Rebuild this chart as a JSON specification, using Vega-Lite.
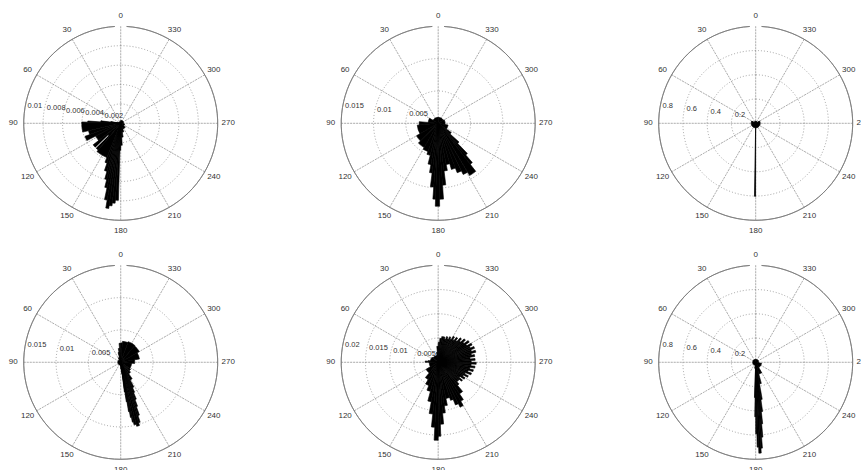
{
"$schema":"https://vega.github.io/schema/vega-lite/v6.json",
"background":"white",
"autosize":{"type":"none"},
"padding":0,
"width":876.4,
"height":485.6,
"config":{"view":{"stroke":null},"text":{"font":"Liberation Sans","fontSize":8,"color":"#333333"}},
"datasets":{
"angles":[{"a":0,"t":"0"},{"a":30,"t":"30"},{"a":60,"t":"60"},{"a":90,"t":"90"},{"a":120,"t":"120"},{"a":150,"t":"150"},{"a":180,"t":"180"},{"a":210,"t":"210"},{"a":240,"t":"240"},{"a":270,"t":"270"},{"a":300,"t":"300"},{"a":330,"t":"330"}],
"rings":[
{"p":1,"v":0.002,"t":"0.002","o":0},{"p":1,"v":0.004,"t":"0.004","o":0},{"p":1,"v":0.006,"t":"0.006","o":0},{"p":1,"v":0.008,"t":"0.008","o":0},{"p":1,"v":0.01,"t":"0.01","o":1},
{"p":2,"v":0.005,"t":"0.005","o":0},{"p":2,"v":0.01,"t":"0.01","o":0},{"p":2,"v":0.015,"t":"0.015","o":1},
{"p":3,"v":0.2,"t":"0.2","o":0},{"p":3,"v":0.4,"t":"0.4","o":0},{"p":3,"v":0.6,"t":"0.6","o":0},{"p":3,"v":0.8,"t":"0.8","o":1},
{"p":4,"v":0.005,"t":"0.005","o":0},{"p":4,"v":0.01,"t":"0.01","o":0},{"p":4,"v":0.015,"t":"0.015","o":1},
{"p":5,"v":0.005,"t":"0.005","o":0},{"p":5,"v":0.01,"t":"0.01","o":0},{"p":5,"v":0.015,"t":"0.015","o":0},{"p":5,"v":0.02,"t":"0.02","o":1},
{"p":6,"v":0.2,"t":"0.2","o":0},{"p":6,"v":0.4,"t":"0.4","o":0},{"p":6,"v":0.6,"t":"0.6","o":0},{"p":6,"v":0.8,"t":"0.8","o":1}
],
"gaps":[{"p":1,"a0":134.1,"a1":134.7,"r0":0.0018,"r":0.0037}],
"wedges":[
{"p":1,"a0":0,"a1":80,"r":0.0002},{"p":1,"a0":80,"a1":83,"r":0.00103},{"p":1,"a0":83,"a1":86,"r":0.00206},{"p":1,"a0":86,"a1":88,"r":0.0034},{"p":1,"a0":88,"a1":103,"r":0.00402},{"p":1,"a0":103,"a1":110,"r":0.0034},{"p":1,"a0":110,"a1":117,"r":0.00392},{"p":1,"a0":117,"a1":128,"r":0.00289},{"p":1,"a0":128,"a1":140,"r":0.00361},{"p":1,"a0":140,"a1":158,"r":0.00381},{"p":1,"a0":158,"a1":161,"r":0.00433},{"p":1,"a0":161,"a1":164,"r":0.00515},{"p":1,"a0":164,"a1":166,"r":0.00598},{"p":1,"a0":166,"a1":168,"r":0.0068},{"p":1,"a0":168,"a1":170,"r":0.00804},{"p":1,"a0":170,"a1":172,"r":0.00887},{"p":1,"a0":172,"a1":174,"r":0.00856},{"p":1,"a0":174,"a1":176,"r":0.00825},{"p":1,"a0":176,"a1":178.3,"r":0.00794},{"p":1,"a0":178.3,"a1":180,"r":0.00278},{"p":1,"a0":180,"a1":184,"r":0.00227},{"p":1,"a0":184,"a1":190,"r":0.00144},{"p":1,"a0":190,"a1":200,"r":0.00093},{"p":1,"a0":200,"a1":230,"r":0.00062},{"p":1,"a0":230,"a1":260,"r":0.00041},{"p":1,"a0":260,"a1":360,"r":0.00031},
{"p":2,"a0":0,"a1":60,"r":0.00093},{"p":2,"a0":60,"a1":85,"r":0.00155},{"p":2,"a0":85,"a1":95,"r":0.00294},{"p":2,"a0":95,"a1":120,"r":0.00325},{"p":2,"a0":120,"a1":135,"r":0.00387},{"p":2,"a0":135,"a1":150,"r":0.00433},{"p":2,"a0":150,"a1":160,"r":0.00464},{"p":2,"a0":160,"a1":166,"r":0.0051},{"p":2,"a0":166,"a1":170,"r":0.00649},{"p":2,"a0":170,"a1":173,"r":0.00773},{"p":2,"a0":173,"a1":176,"r":0.00989},{"p":2,"a0":176,"a1":178,"r":0.01175},{"p":2,"a0":178,"a1":181,"r":0.01283},{"p":2,"a0":181,"a1":184,"r":0.01175},{"p":2,"a0":184,"a1":187,"r":0.00959},{"p":2,"a0":187,"a1":191,"r":0.00742},{"p":2,"a0":191,"a1":196,"r":0.00649},{"p":2,"a0":196,"a1":201,"r":0.00742},{"p":2,"a0":201,"a1":206,"r":0.00819},{"p":2,"a0":206,"a1":211,"r":0.00881},{"p":2,"a0":211,"a1":218,"r":0.00943},{"p":2,"a0":218,"a1":221,"r":0.00804},{"p":2,"a0":221,"a1":224,"r":0.00649},{"p":2,"a0":224,"a1":228,"r":0.00433},{"p":2,"a0":228,"a1":235,"r":0.00247},{"p":2,"a0":235,"a1":260,"r":0.00155},{"p":2,"a0":260,"a1":300,"r":0.00108},{"p":2,"a0":300,"a1":360,"r":0.00093},
{"p":3,"a0":0,"a1":60,"r":0.0165},{"p":3,"a0":60,"a1":300,"r":0.037},{"p":3,"a0":300,"a1":360,"r":0.0165},{"p":3,"a0":179.1,"a1":179.9,"r":0.602},
{"p":4,"a0":0,"a1":5,"r":0.00294},{"p":4,"a0":5,"a1":10,"r":0.00216},{"p":4,"a0":10,"a1":15,"r":0.00155},{"p":4,"a0":15,"a1":30,"r":0.00077},{"p":4,"a0":30,"a1":180,"r":0.00046},{"p":4,"a0":180,"a1":186,"r":0.00108},{"p":4,"a0":186,"a1":187,"r":0.00186},{"p":4,"a0":187,"a1":188,"r":0.00464},{"p":4,"a0":188,"a1":189,"r":0.00618},{"p":4,"a0":189,"a1":190,"r":0.00773},{"p":4,"a0":190,"a1":191,"r":0.00866},{"p":4,"a0":191,"a1":192,"r":0.00943},{"p":4,"a0":192,"a1":194,"r":0.00989},{"p":4,"a0":194,"a1":196.5,"r":0.0102},{"p":4,"a0":196.5,"a1":198,"r":0.00974},{"p":4,"a0":198,"a1":199.5,"r":0.00866},{"p":4,"a0":199.5,"a1":201,"r":0.00727},{"p":4,"a0":201,"a1":203,"r":0.00618},{"p":4,"a0":203,"a1":205,"r":0.0051},{"p":4,"a0":205,"a1":208,"r":0.00433},{"p":4,"a0":208,"a1":215,"r":0.00309},{"p":4,"a0":215,"a1":225,"r":0.00216},{"p":4,"a0":225,"a1":235,"r":0.00186},{"p":4,"a0":235,"a1":265,"r":0.0017},{"p":4,"a0":265,"a1":280,"r":0.00216},{"p":4,"a0":280,"a1":300,"r":0.00294},{"p":4,"a0":300,"a1":320,"r":0.00332},{"p":4,"a0":320,"a1":340,"r":0.0034},{"p":4,"a0":340,"a1":355,"r":0.00325},{"p":4,"a0":355,"a1":360,"r":0.00301},
{"p":5,"a0":0,"a1":5,"r":0.0033},{"p":5,"a0":5,"a1":10,"r":0.00206},{"p":5,"a0":10,"a1":50,"r":0.00144},{"p":5,"a0":50,"a1":80,"r":0.00165},{"p":5,"a0":80,"a1":84,"r":0.00206},{"p":5,"a0":84,"a1":90,"r":0.00268},{"p":5,"a0":90,"a1":120,"r":0.00186},{"p":5,"a0":120,"a1":140,"r":0.00289},{"p":5,"a0":140,"a1":150,"r":0.00412},{"p":5,"a0":150,"a1":158,"r":0.00516},{"p":5,"a0":158,"a1":165,"r":0.00619},{"p":5,"a0":165,"a1":170,"r":0.00825},{"p":5,"a0":170,"a1":174,"r":0.01072},{"p":5,"a0":174,"a1":177,"r":0.0134},{"p":5,"a0":177,"a1":180,"r":0.01608},{"p":5,"a0":180,"a1":182,"r":0.01526},{"p":5,"a0":182,"a1":185,"r":0.01278},{"p":5,"a0":185,"a1":188,"r":0.01052},{"p":5,"a0":188,"a1":192,"r":0.00907},{"p":5,"a0":192,"a1":198,"r":0.00763},{"p":5,"a0":198,"a1":202,"r":0.00825},{"p":5,"a0":202,"a1":206,"r":0.00949},{"p":5,"a0":206,"a1":210,"r":0.01031},{"p":5,"a0":210,"a1":214,"r":0.00928},{"p":5,"a0":214,"a1":220,"r":0.00784},{"p":5,"a0":220,"a1":224,"r":0.00619},{"p":5,"a0":224,"a1":228,"r":0.00557},
{"p":5,"a0":228,"a1":231,"r":0.00557},{"p":5,"a0":231,"a1":234,"r":0.00619},{"p":5,"a0":234,"a1":237,"r":0.00536},{"p":5,"a0":237,"a1":240,"r":0.00639},{"p":5,"a0":240,"a1":243,"r":0.00577},{"p":5,"a0":243,"a1":246,"r":0.0068},{"p":5,"a0":246,"a1":249,"r":0.00598},{"p":5,"a0":249,"a1":252,"r":0.00722},{"p":5,"a0":252,"a1":255,"r":0.00639},{"p":5,"a0":255,"a1":258,"r":0.00742},{"p":5,"a0":258,"a1":261,"r":0.0066},{"p":5,"a0":261,"a1":264,"r":0.00763},{"p":5,"a0":264,"a1":267,"r":0.0068},{"p":5,"a0":267,"a1":270,"r":0.00784},{"p":5,"a0":270,"a1":273,"r":0.0068},{"p":5,"a0":273,"a1":276,"r":0.00763},{"p":5,"a0":276,"a1":279,"r":0.0066},{"p":5,"a0":279,"a1":282,"r":0.00763},{"p":5,"a0":282,"a1":285,"r":0.00701},{"p":5,"a0":285,"a1":288,"r":0.00804},{"p":5,"a0":288,"a1":291,"r":0.00722},{"p":5,"a0":291,"a1":294,"r":0.00804},{"p":5,"a0":294,"a1":297,"r":0.00722},{"p":5,"a0":297,"a1":300,"r":0.00784},{"p":5,"a0":300,"a1":303,"r":0.0068},{"p":5,"a0":303,"a1":306,"r":0.00763},{"p":5,"a0":306,"a1":309,"r":0.0066},{"p":5,"a0":309,"a1":312,"r":0.00722},{"p":5,"a0":312,"a1":315,"r":0.00619},{"p":5,"a0":315,"a1":318,"r":0.0068},{"p":5,"a0":318,"a1":321,"r":0.00577},{"p":5,"a0":321,"a1":324,"r":0.00639},{"p":5,"a0":324,"a1":327,"r":0.00557},{"p":5,"a0":327,"a1":330,"r":0.00619},{"p":5,"a0":330,"a1":333,"r":0.00536},{"p":5,"a0":333,"a1":336,"r":0.00577},{"p":5,"a0":336,"a1":339,"r":0.00516},{"p":5,"a0":339,"a1":342,"r":0.00557},{"p":5,"a0":342,"a1":345,"r":0.00495},{"p":5,"a0":345,"a1":348,"r":0.00536},{"p":5,"a0":348,"a1":352,"r":0.00536},{"p":5,"a0":352,"a1":356,"r":0.00495},{"p":5,"a0":356,"a1":360,"r":0.00412},
{"p":6,"a0":0,"a1":170,"r":0.025},{"p":6,"a0":170,"a1":178,"r":0.05},{"p":6,"a0":178,"a1":179,"r":0.29},{"p":6,"a0":179,"a1":180,"r":0.45},{"p":6,"a0":180,"a1":181,"r":0.59},{"p":6,"a0":181,"a1":182,"r":0.70},{"p":6,"a0":182,"a1":183.5,"r":0.75},{"p":6,"a0":183.5,"a1":184.5,"r":0.71},{"p":6,"a0":184.5,"a1":185.5,"r":0.62},{"p":6,"a0":185.5,"a1":186.5,"r":0.51},{"p":6,"a0":186.5,"a1":188,"r":0.41},{"p":6,"a0":188,"a1":190,"r":0.31},{"p":6,"a0":190,"a1":195,"r":0.18},{"p":6,"a0":195,"a1":210,"r":0.10},{"p":6,"a0":210,"a1":260,"r":0.05},{"p":6,"a0":260,"a1":360,"r":0.025}
]
},
"resolve":{"scale":{"radius":"independent","theta":"independent"}},
"layer":[
{"data":{"name":"angles"},"mark":{"type":"arc","filled":false,"stroke":"#8c8c8c","strokeWidth":0.8,"strokeDash":[1,2]},"encoding":{"x":{"datum":1,"type":"ordinal","scale":{"type":"point","domain":[1,2,3],"padding":0.3802},"axis":null},"y":{"datum":1,"type":"ordinal","scale":{"type":"point","domain":[1,2],"padding":0.5159},"axis":null},"theta":{"field":"a","type":"quantitative","stack":null,"scale":{"domain":[0,360],"range":[6.283185307179586,0]}},"theta2":{"field":"a"},"radius":{"datum":0.01,"type":"quantitative","scale":{"domain":[0,0.01],"range":[0,97],"nice":false}}}},
{"data":{"name":"rings"},"transform":[{"filter":"datum.p==1 && datum.o==0"}],"mark":{"type":"arc","filled":false,"stroke":"#8c8c8c","strokeWidth":0.8,"strokeDash":[1,2]},"encoding":{"x":{"datum":1,"type":"ordinal","axis":null},"y":{"datum":1,"type":"ordinal","axis":null},"theta":{"datum":0,"type":"quantitative","scale":{"domain":[0,360],"range":[6.283185307179586,0]}},"theta2":{"datum":360},"radius":{"field":"v","type":"quantitative","stack":null,"scale":{"domain":[0,0.01],"range":[0,97],"nice":false}}}},
{"data":{"name":"rings"},"transform":[{"filter":"datum.p==1 && datum.o==1"}],"mark":{"type":"arc","filled":false,"stroke":"#7a7a7a","strokeWidth":0.8},"encoding":{"x":{"datum":1,"type":"ordinal","axis":null},"y":{"datum":1,"type":"ordinal","axis":null},"theta":{"datum":3.5,"type":"quantitative","scale":{"domain":[0,360],"range":[6.283185307179586,0]}},"theta2":{"datum":356.5},"radius":{"field":"v","type":"quantitative","stack":null,"scale":{"domain":[0,0.01],"range":[0,97],"nice":false}},"radius2":{"field":"v"}}},
{"data":{"name":"rings"},"transform":[{"filter":"datum.p==1"}],"mark":{"type":"text","align":"left","baseline":"middle","dx":3,"dy":-4.7,"fontSize":7.5},"encoding":{"x":{"datum":1,"type":"ordinal","axis":null},"y":{"datum":1,"type":"ordinal","axis":null},"theta":{"datum":82.3,"type":"quantitative","scale":{"domain":[0,360],"range":[6.283185307179586,0]}},"radius":{"field":"v","type":"quantitative","stack":null,"scale":{"domain":[0,0.01],"range":[0,97],"nice":false}},"text":{"field":"t"}}},
{"data":{"name":"angles"},"mark":{"type":"text","align":"center","baseline":"middle","radiusOffset":10.5},"encoding":{"x":{"datum":1,"type":"ordinal","axis":null},"y":{"datum":1,"type":"ordinal","axis":null},"theta":{"field":"a","type":"quantitative","stack":null,"scale":{"domain":[0,360],"range":[6.283185307179586,0]}},"radius":{"datum":0.01,"type":"quantitative","scale":{"domain":[0,0.01],"range":[0,97],"nice":false}},"text":{"field":"t"}}},
{"data":{"name":"wedges"},"transform":[{"filter":"datum.p==1"}],"mark":{"type":"arc","color":"black","stroke":"black","strokeWidth":0.6,"strokeJoin":"round"},"encoding":{"x":{"datum":1,"type":"ordinal","axis":null},"y":{"datum":1,"type":"ordinal","axis":null},"theta":{"field":"a0","type":"quantitative","stack":null,"scale":{"domain":[0,360],"range":[6.283185307179586,0]}},"theta2":{"field":"a1"},"radius":{"field":"r","type":"quantitative","stack":null,"scale":{"domain":[0,0.01],"range":[0,97],"nice":false}}}},
{"data":{"name":"gaps"},"mark":{"type":"arc","color":"white","stroke":"white","strokeWidth":0.5},"encoding":{"x":{"datum":1,"type":"ordinal","axis":null},"y":{"datum":1,"type":"ordinal","axis":null},"theta":{"field":"a0","type":"quantitative","stack":null,"scale":{"domain":[0,360],"range":[6.283185307179586,0]}},"theta2":{"field":"a1"},"radius":{"field":"r","type":"quantitative","stack":null,"scale":{"domain":[0,0.01],"range":[0,97],"nice":false}},"radius2":{"field":"r0"}}},

{"data":{"name":"angles"},"mark":{"type":"arc","filled":false,"stroke":"#8c8c8c","strokeWidth":0.8,"strokeDash":[1,2]},"encoding":{"x":{"datum":2,"type":"ordinal","axis":null},"y":{"datum":1,"type":"ordinal","axis":null},"theta":{"field":"a","type":"quantitative","stack":null,"scale":{"domain":[0,360],"range":[6.283185307179586,0]}},"theta2":{"field":"a"},"radius":{"datum":0.015,"type":"quantitative","scale":{"domain":[0,0.015],"range":[0,97],"nice":false}}}},
{"data":{"name":"rings"},"transform":[{"filter":"datum.p==2 && datum.o==0"}],"mark":{"type":"arc","filled":false,"stroke":"#8c8c8c","strokeWidth":0.8,"strokeDash":[1,2]},"encoding":{"x":{"datum":2,"type":"ordinal","axis":null},"y":{"datum":1,"type":"ordinal","axis":null},"theta":{"datum":0,"type":"quantitative","scale":{"domain":[0,360],"range":[6.283185307179586,0]}},"theta2":{"datum":360},"radius":{"field":"v","type":"quantitative","stack":null,"scale":{"domain":[0,0.015],"range":[0,97],"nice":false}}}},
{"data":{"name":"rings"},"transform":[{"filter":"datum.p==2 && datum.o==1"}],"mark":{"type":"arc","filled":false,"stroke":"#7a7a7a","strokeWidth":0.8},"encoding":{"x":{"datum":2,"type":"ordinal","axis":null},"y":{"datum":1,"type":"ordinal","axis":null},"theta":{"datum":3.5,"type":"quantitative","scale":{"domain":[0,360],"range":[6.283185307179586,0]}},"theta2":{"datum":356.5},"radius":{"field":"v","type":"quantitative","stack":null,"scale":{"domain":[0,0.015],"range":[0,97],"nice":false}},"radius2":{"field":"v"}}},
{"data":{"name":"rings"},"transform":[{"filter":"datum.p==2"}],"mark":{"type":"text","align":"left","baseline":"middle","dx":3,"dy":-4.7,"fontSize":7.5},"encoding":{"x":{"datum":2,"type":"ordinal","axis":null},"y":{"datum":1,"type":"ordinal","axis":null},"theta":{"datum":82.3,"type":"quantitative","scale":{"domain":[0,360],"range":[6.283185307179586,0]}},"radius":{"field":"v","type":"quantitative","stack":null,"scale":{"domain":[0,0.015],"range":[0,97],"nice":false}},"text":{"field":"t"}}},
{"data":{"name":"angles"},"mark":{"type":"text","align":"center","baseline":"middle","radiusOffset":10.5},"encoding":{"x":{"datum":2,"type":"ordinal","axis":null},"y":{"datum":1,"type":"ordinal","axis":null},"theta":{"field":"a","type":"quantitative","stack":null,"scale":{"domain":[0,360],"range":[6.283185307179586,0]}},"radius":{"datum":0.015,"type":"quantitative","scale":{"domain":[0,0.015],"range":[0,97],"nice":false}},"text":{"field":"t"}}},
{"data":{"name":"wedges"},"transform":[{"filter":"datum.p==2"}],"mark":{"type":"arc","color":"black","stroke":"black","strokeWidth":0.6,"strokeJoin":"round"},"encoding":{"x":{"datum":2,"type":"ordinal","axis":null},"y":{"datum":1,"type":"ordinal","axis":null},"theta":{"field":"a0","type":"quantitative","stack":null,"scale":{"domain":[0,360],"range":[6.283185307179586,0]}},"theta2":{"field":"a1"},"radius":{"field":"r","type":"quantitative","stack":null,"scale":{"domain":[0,0.015],"range":[0,97],"nice":false}}}},

{"data":{"name":"angles"},"mark":{"type":"arc","filled":false,"stroke":"#8c8c8c","strokeWidth":0.8,"strokeDash":[1,2]},"encoding":{"x":{"datum":3,"type":"ordinal","axis":null},"y":{"datum":1,"type":"ordinal","axis":null},"theta":{"field":"a","type":"quantitative","stack":null,"scale":{"domain":[0,360],"range":[6.283185307179586,0]}},"theta2":{"field":"a"},"radius":{"datum":0.8,"type":"quantitative","scale":{"domain":[0,0.8],"range":[0,97],"nice":false}}}},
{"data":{"name":"rings"},"transform":[{"filter":"datum.p==3 && datum.o==0"}],"mark":{"type":"arc","filled":false,"stroke":"#8c8c8c","strokeWidth":0.8,"strokeDash":[1,2]},"encoding":{"x":{"datum":3,"type":"ordinal","axis":null},"y":{"datum":1,"type":"ordinal","axis":null},"theta":{"datum":0,"type":"quantitative","scale":{"domain":[0,360],"range":[6.283185307179586,0]}},"theta2":{"datum":360},"radius":{"field":"v","type":"quantitative","stack":null,"scale":{"domain":[0,0.8],"range":[0,97],"nice":false}}}},
{"data":{"name":"rings"},"transform":[{"filter":"datum.p==3 && datum.o==1"}],"mark":{"type":"arc","filled":false,"stroke":"#7a7a7a","strokeWidth":0.8},"encoding":{"x":{"datum":3,"type":"ordinal","axis":null},"y":{"datum":1,"type":"ordinal","axis":null},"theta":{"datum":3.5,"type":"quantitative","scale":{"domain":[0,360],"range":[6.283185307179586,0]}},"theta2":{"datum":356.5},"radius":{"field":"v","type":"quantitative","stack":null,"scale":{"domain":[0,0.8],"range":[0,97],"nice":false}},"radius2":{"field":"v"}}},
{"data":{"name":"rings"},"transform":[{"filter":"datum.p==3"}],"mark":{"type":"text","align":"left","baseline":"middle","dx":3,"dy":-4.7,"fontSize":7.5},"encoding":{"x":{"datum":3,"type":"ordinal","axis":null},"y":{"datum":1,"type":"ordinal","axis":null},"theta":{"datum":82.3,"type":"quantitative","scale":{"domain":[0,360],"range":[6.283185307179586,0]}},"radius":{"field":"v","type":"quantitative","stack":null,"scale":{"domain":[0,0.8],"range":[0,97],"nice":false}},"text":{"field":"t"}}},
{"data":{"name":"angles"},"mark":{"type":"text","align":"center","baseline":"middle","radiusOffset":10.5},"encoding":{"x":{"datum":3,"type":"ordinal","axis":null},"y":{"datum":1,"type":"ordinal","axis":null},"theta":{"field":"a","type":"quantitative","stack":null,"scale":{"domain":[0,360],"range":[6.283185307179586,0]}},"radius":{"datum":0.8,"type":"quantitative","scale":{"domain":[0,0.8],"range":[0,97],"nice":false}},"text":{"field":"t"}}},
{"data":{"name":"wedges"},"transform":[{"filter":"datum.p==3"}],"mark":{"type":"arc","color":"black","stroke":"black","strokeWidth":0.8,"strokeJoin":"round"},"encoding":{"x":{"datum":3,"type":"ordinal","axis":null},"y":{"datum":1,"type":"ordinal","axis":null},"theta":{"field":"a0","type":"quantitative","stack":null,"scale":{"domain":[0,360],"range":[6.283185307179586,0]}},"theta2":{"field":"a1"},"radius":{"field":"r","type":"quantitative","stack":null,"scale":{"domain":[0,0.8],"range":[0,97],"nice":false}}}},

{"data":{"name":"angles"},"mark":{"type":"arc","filled":false,"stroke":"#8c8c8c","strokeWidth":0.8,"strokeDash":[1,2]},"encoding":{"x":{"datum":1,"type":"ordinal","axis":null},"y":{"datum":2,"type":"ordinal","axis":null},"theta":{"field":"a","type":"quantitative","stack":null,"scale":{"domain":[0,360],"range":[6.283185307179586,0]}},"theta2":{"field":"a"},"radius":{"datum":0.015,"type":"quantitative","scale":{"domain":[0,0.015],"range":[0,97],"nice":false}}}},
{"data":{"name":"rings"},"transform":[{"filter":"datum.p==4 && datum.o==0"}],"mark":{"type":"arc","filled":false,"stroke":"#8c8c8c","strokeWidth":0.8,"strokeDash":[1,2]},"encoding":{"x":{"datum":1,"type":"ordinal","axis":null},"y":{"datum":2,"type":"ordinal","axis":null},"theta":{"datum":0,"type":"quantitative","scale":{"domain":[0,360],"range":[6.283185307179586,0]}},"theta2":{"datum":360},"radius":{"field":"v","type":"quantitative","stack":null,"scale":{"domain":[0,0.015],"range":[0,97],"nice":false}}}},
{"data":{"name":"rings"},"transform":[{"filter":"datum.p==4 && datum.o==1"}],"mark":{"type":"arc","filled":false,"stroke":"#7a7a7a","strokeWidth":0.8},"encoding":{"x":{"datum":1,"type":"ordinal","axis":null},"y":{"datum":2,"type":"ordinal","axis":null},"theta":{"datum":3.5,"type":"quantitative","scale":{"domain":[0,360],"range":[6.283185307179586,0]}},"theta2":{"datum":356.5},"radius":{"field":"v","type":"quantitative","stack":null,"scale":{"domain":[0,0.015],"range":[0,97],"nice":false}},"radius2":{"field":"v"}}},
{"data":{"name":"rings"},"transform":[{"filter":"datum.p==4"}],"mark":{"type":"text","align":"left","baseline":"middle","dx":3,"dy":-4.7,"fontSize":7.5},"encoding":{"x":{"datum":1,"type":"ordinal","axis":null},"y":{"datum":2,"type":"ordinal","axis":null},"theta":{"datum":82.3,"type":"quantitative","scale":{"domain":[0,360],"range":[6.283185307179586,0]}},"radius":{"field":"v","type":"quantitative","stack":null,"scale":{"domain":[0,0.015],"range":[0,97],"nice":false}},"text":{"field":"t"}}},
{"data":{"name":"angles"},"mark":{"type":"text","align":"center","baseline":"middle","radiusOffset":10.5},"encoding":{"x":{"datum":1,"type":"ordinal","axis":null},"y":{"datum":2,"type":"ordinal","axis":null},"theta":{"field":"a","type":"quantitative","stack":null,"scale":{"domain":[0,360],"range":[6.283185307179586,0]}},"radius":{"datum":0.015,"type":"quantitative","scale":{"domain":[0,0.015],"range":[0,97],"nice":false}},"text":{"field":"t"}}},
{"data":{"name":"wedges"},"transform":[{"filter":"datum.p==4"}],"mark":{"type":"arc","color":"black","stroke":"black","strokeWidth":0.6,"strokeJoin":"round"},"encoding":{"x":{"datum":1,"type":"ordinal","axis":null},"y":{"datum":2,"type":"ordinal","axis":null},"theta":{"field":"a0","type":"quantitative","stack":null,"scale":{"domain":[0,360],"range":[6.283185307179586,0]}},"theta2":{"field":"a1"},"radius":{"field":"r","type":"quantitative","stack":null,"scale":{"domain":[0,0.015],"range":[0,97],"nice":false}}}},

{"data":{"name":"angles"},"mark":{"type":"arc","filled":false,"stroke":"#8c8c8c","strokeWidth":0.8,"strokeDash":[1,2]},"encoding":{"x":{"datum":2,"type":"ordinal","axis":null},"y":{"datum":2,"type":"ordinal","axis":null},"theta":{"field":"a","type":"quantitative","stack":null,"scale":{"domain":[0,360],"range":[6.283185307179586,0]}},"theta2":{"field":"a"},"radius":{"datum":0.02,"type":"quantitative","scale":{"domain":[0,0.02],"range":[0,97],"nice":false}}}},
{"data":{"name":"rings"},"transform":[{"filter":"datum.p==5 && datum.o==0"}],"mark":{"type":"arc","filled":false,"stroke":"#8c8c8c","strokeWidth":0.8,"strokeDash":[1,2]},"encoding":{"x":{"datum":2,"type":"ordinal","axis":null},"y":{"datum":2,"type":"ordinal","axis":null},"theta":{"datum":0,"type":"quantitative","scale":{"domain":[0,360],"range":[6.283185307179586,0]}},"theta2":{"datum":360},"radius":{"field":"v","type":"quantitative","stack":null,"scale":{"domain":[0,0.02],"range":[0,97],"nice":false}}}},
{"data":{"name":"rings"},"transform":[{"filter":"datum.p==5 && datum.o==1"}],"mark":{"type":"arc","filled":false,"stroke":"#7a7a7a","strokeWidth":0.8},"encoding":{"x":{"datum":2,"type":"ordinal","axis":null},"y":{"datum":2,"type":"ordinal","axis":null},"theta":{"datum":3.5,"type":"quantitative","scale":{"domain":[0,360],"range":[6.283185307179586,0]}},"theta2":{"datum":356.5},"radius":{"field":"v","type":"quantitative","stack":null,"scale":{"domain":[0,0.02],"range":[0,97],"nice":false}},"radius2":{"field":"v"}}},
{"data":{"name":"rings"},"transform":[{"filter":"datum.p==5"}],"mark":{"type":"text","align":"left","baseline":"middle","dx":3,"dy":-4.7,"fontSize":7.5},"encoding":{"x":{"datum":2,"type":"ordinal","axis":null},"y":{"datum":2,"type":"ordinal","axis":null},"theta":{"datum":82.3,"type":"quantitative","scale":{"domain":[0,360],"range":[6.283185307179586,0]}},"radius":{"field":"v","type":"quantitative","stack":null,"scale":{"domain":[0,0.02],"range":[0,97],"nice":false}},"text":{"field":"t"}}},
{"data":{"name":"angles"},"mark":{"type":"text","align":"center","baseline":"middle","radiusOffset":10.5},"encoding":{"x":{"datum":2,"type":"ordinal","axis":null},"y":{"datum":2,"type":"ordinal","axis":null},"theta":{"field":"a","type":"quantitative","stack":null,"scale":{"domain":[0,360],"range":[6.283185307179586,0]}},"radius":{"datum":0.02,"type":"quantitative","scale":{"domain":[0,0.02],"range":[0,97],"nice":false}},"text":{"field":"t"}}},
{"data":{"name":"wedges"},"transform":[{"filter":"datum.p==5"}],"mark":{"type":"arc","color":"black","stroke":"black","strokeWidth":0.6,"strokeJoin":"round"},"encoding":{"x":{"datum":2,"type":"ordinal","axis":null},"y":{"datum":2,"type":"ordinal","axis":null},"theta":{"field":"a0","type":"quantitative","stack":null,"scale":{"domain":[0,360],"range":[6.283185307179586,0]}},"theta2":{"field":"a1"},"radius":{"field":"r","type":"quantitative","stack":null,"scale":{"domain":[0,0.02],"range":[0,97],"nice":false}}}},

{"data":{"name":"angles"},"mark":{"type":"arc","filled":false,"stroke":"#8c8c8c","strokeWidth":0.8,"strokeDash":[1,2]},"encoding":{"x":{"datum":3,"type":"ordinal","axis":null},"y":{"datum":2,"type":"ordinal","axis":null},"theta":{"field":"a","type":"quantitative","stack":null,"scale":{"domain":[0,360],"range":[6.283185307179586,0]}},"theta2":{"field":"a"},"radius":{"datum":0.8,"type":"quantitative","scale":{"domain":[0,0.8],"range":[0,97],"nice":false}}}},
{"data":{"name":"rings"},"transform":[{"filter":"datum.p==6 && datum.o==0"}],"mark":{"type":"arc","filled":false,"stroke":"#8c8c8c","strokeWidth":0.8,"strokeDash":[1,2]},"encoding":{"x":{"datum":3,"type":"ordinal","axis":null},"y":{"datum":2,"type":"ordinal","axis":null},"theta":{"datum":0,"type":"quantitative","scale":{"domain":[0,360],"range":[6.283185307179586,0]}},"theta2":{"datum":360},"radius":{"field":"v","type":"quantitative","stack":null,"scale":{"domain":[0,0.8],"range":[0,97],"nice":false}}}},
{"data":{"name":"rings"},"transform":[{"filter":"datum.p==6 && datum.o==1"}],"mark":{"type":"arc","filled":false,"stroke":"#7a7a7a","strokeWidth":0.8},"encoding":{"x":{"datum":3,"type":"ordinal","axis":null},"y":{"datum":2,"type":"ordinal","axis":null},"theta":{"datum":3.5,"type":"quantitative","scale":{"domain":[0,360],"range":[6.283185307179586,0]}},"theta2":{"datum":356.5},"radius":{"field":"v","type":"quantitative","stack":null,"scale":{"domain":[0,0.8],"range":[0,97],"nice":false}},"radius2":{"field":"v"}}},
{"data":{"name":"rings"},"transform":[{"filter":"datum.p==6"}],"mark":{"type":"text","align":"left","baseline":"middle","dx":3,"dy":-4.7,"fontSize":7.5},"encoding":{"x":{"datum":3,"type":"ordinal","axis":null},"y":{"datum":2,"type":"ordinal","axis":null},"theta":{"datum":82.3,"type":"quantitative","scale":{"domain":[0,360],"range":[6.283185307179586,0]}},"radius":{"field":"v","type":"quantitative","stack":null,"scale":{"domain":[0,0.8],"range":[0,97],"nice":false}},"text":{"field":"t"}}},
{"data":{"name":"angles"},"mark":{"type":"text","align":"center","baseline":"middle","radiusOffset":10.5},"encoding":{"x":{"datum":3,"type":"ordinal","axis":null},"y":{"datum":2,"type":"ordinal","axis":null},"theta":{"field":"a","type":"quantitative","stack":null,"scale":{"domain":[0,360],"range":[6.283185307179586,0]}},"radius":{"datum":0.8,"type":"quantitative","scale":{"domain":[0,0.8],"range":[0,97],"nice":false}},"text":{"field":"t"}}},
{"data":{"name":"wedges"},"transform":[{"filter":"datum.p==6"}],"mark":{"type":"arc","color":"black","stroke":"black","strokeWidth":0.6,"strokeJoin":"round"},"encoding":{"x":{"datum":3,"type":"ordinal","axis":null},"y":{"datum":2,"type":"ordinal","axis":null},"theta":{"field":"a0","type":"quantitative","stack":null,"scale":{"domain":[0,360],"range":[6.283185307179586,0]}},"theta2":{"field":"a1"},"radius":{"field":"r","type":"quantitative","stack":null,"scale":{"domain":[0,0.8],"range":[0,97],"nice":false}}}}
]
}
